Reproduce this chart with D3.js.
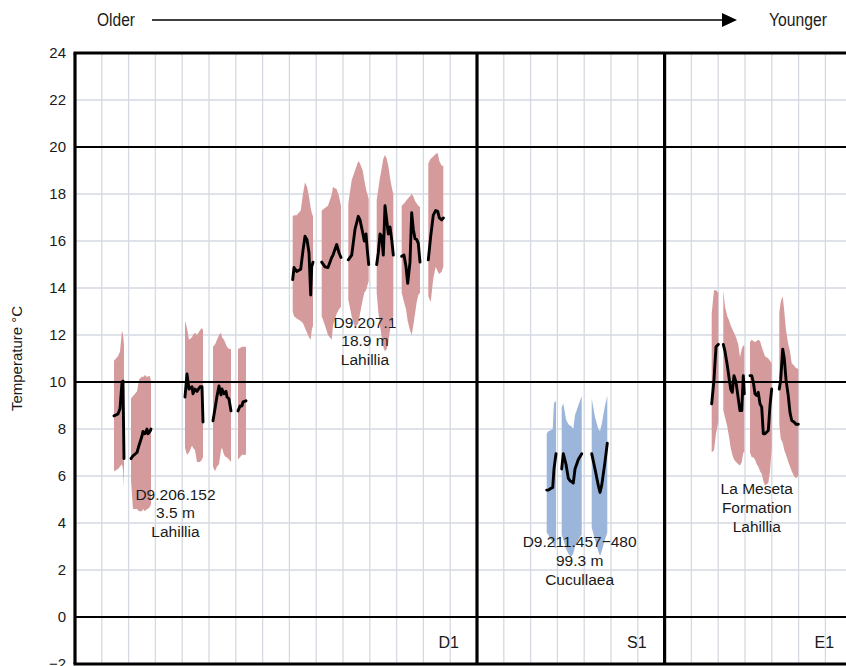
<!DOCTYPE html>
<html>
<head>
<meta charset="utf-8">
<script src="https://cdn.jsdelivr.net/npm/d3@7"></script>
<style>
  html, body { margin: 0; padding: 0; background: #fff; overflow: hidden; }
  svg { display: block; }
  text { font-family: "Liberation Sans", Arial, sans-serif; fill: #1a1a1a; }
</style>
</head>
<body>
<svg id="chart" width="846" height="666"></svg>
<script>
// ---- Data: sample position (column units), mean temperature and range (°C).
// null entries break a record into separate sub-sections.

// Panel boundaries and names
const panelEdges = [0, 15, 22, 29];
const panelNames = ["D1", "S1", "E1"];
const yTicks = [-2, 0, 2, 4, 6, 8, 10, 12, 14, 16, 18, 20, 22, 24];
const boldTemps = [0, 10, 20];

// D9.206.152 (3.5 m, Lahillia)
const d206_pos  = [1.455, 1.604, 1.679, 1.754, 1.791, 1.828, null,
                   2.090, 2.164, 2.313, 2.388, 2.500, 2.537, 2.612, 2.687, 2.724, 2.799, 2.836, null,
                   4.104, 4.179, 4.254, 4.366, 4.403, 4.478, 4.552, 4.664, 4.739, 4.776, null,
                   5.149, 5.224, 5.299, 5.373, 5.448, 5.485, 5.560, 5.634, 5.672, 5.746, 5.821, null,
                   6.082, 6.157, 6.231, 6.269, 6.381];
const d206_mean = [8.56, 8.64, 8.86, 10.0, 10.04, 6.74, null,
                   6.74, 6.86, 7.0, 7.3, 7.7, 7.9, 7.8, 8.0, 7.8, 7.9, 8.0, null,
                   9.36, 10.34, 9.7, 9.8, 9.5, 9.7, 9.6, 9.8, 9.8, 8.3, null,
                   8.35, 8.86, 9.4, 9.83, 9.45, 9.7, 9.5, 9.6, 9.36, 9.28, 8.77, null,
                   8.77, 8.98, 8.98, 9.15, 9.2];
const d206_hi   = [10.9, 11.1, 11.3, 12.2, 12.0, 11.6, null,
                   9.3, 9.4, 9.6, 10.1, 10.25, 10.2, 10.3, 10.2, 10.25, 10.25, 10.0, null,
                   12.6, 12.3, 11.8, 11.9, 12.0, 12.1, 12.0, 12.2, 12.3, 12.2, null,
                   11.5, 11.6, 11.8, 12.0, 12.1, 11.9, 11.8, 11.6, 11.5, 11.4, 11.4, null,
                   11.4, 11.45, 11.5, 11.5, 11.5];
const d206_lo   = [6.2, 6.3, 6.4, 6.5, 6.3, 5.5, null,
                   5.8, 4.6, 4.6, 4.5, 4.5, 4.6, 4.5, 4.6, 4.6, 4.7, 4.8, null,
                   7.2, 6.9, 7.0, 7.3, 7.2, 7.1, 6.6, 6.6, 6.7, 6.8, null,
                   6.4, 6.2, 6.4, 6.5, 7.1, 7.2, 6.9, 6.8, 6.8, 6.7, 6.6, null,
                   6.7, 6.8, 6.9, 6.9, 6.9];

// D9.207.1 (18.9 m, Lahillia)
const d207_pos  = [8.123, 8.172, 8.272, 8.422, 8.507, 8.582, 8.657, 8.731, 8.795, 8.832, 8.881, null,
                   9.205, 9.328, 9.440, 9.578, 9.627, 9.765, 9.851, 9.925, null,
                   10.198, 10.325, 10.448, 10.571, 10.634, 10.735, 10.795, 10.858, 10.907, 10.959, null,
                   11.257, 11.317, 11.381, 11.444, 11.504, 11.567, 11.631, 11.690, 11.754, 11.817, 11.877, null,
                   12.190, 12.276, 12.351, 12.414, 12.500, 12.563, 12.623, 12.687, 12.750, 12.810, 12.873, null,
                   13.183, 13.272, 13.369, 13.459, 13.534, 13.594, 13.683, 13.743];
const d207_mean = [14.36, 14.87, 14.7, 14.8, 15.6, 16.2, 16.05, 15.5, 13.7, 14.9, 15.1, null,
                   15.1, 14.9, 14.87, 15.3, 15.4, 15.85, 15.5, 15.3, null,
                   15.2, 15.4, 16.5, 17.05, 16.9, 16.35, 16.0, 16.3, 15.6, 15.0, null,
                   15.0, 15.5, 16.3, 16.2, 15.4, 17.5, 16.9, 16.3, 16.6, 16.06, 15.4, null,
                   15.35, 15.4, 14.9, 14.2, 15.1, 17.2, 16.5, 16.1, 16.06, 15.9, 15.1, null,
                   15.2, 16.2, 17.1, 17.3, 17.26, 16.98, 16.9, 16.98];
const d207_hi   = [17.05, 17.1, 17.1, 17.3, 18.0, 18.5, 18.3, 17.9, 17.4, 17.2, 17.05, null,
                   17.3, 17.4, 17.5, 17.97, 18.3, 18.2, 17.9, 17.5, null,
                   17.6, 18.6, 19.0, 19.4, 19.3, 19.0, 18.6, 18.2, 18.0, 17.8, null,
                   17.75, 18.2, 18.7, 19.1, 19.5, 19.66, 19.5, 19.2, 18.7, 18.3, 18.0, null,
                   17.5, 17.6, 17.7, 17.8, 17.9, 18.0, 17.9, 17.7, 17.6, 17.5, 17.45, null,
                   19.3, 19.5, 19.6, 19.7, 19.75, 19.4, 19.2, 19.2];
const d207_lo   = [13.0, 12.8, 12.7, 12.6, 12.5, 12.3, 12.1, 11.9, 11.8, 12.2, 12.4, null,
                   12.8, 12.4, 12.0, 11.8, 12.4, 12.9, 13.1, 13.2, null,
                   13.5, 12.8, 12.3, 12.5, 12.9, 13.5, 13.8, 13.9, 14.1, 14.3, null,
                   13.8, 13.0, 12.4, 11.9, 11.5, 11.3, 11.4, 11.7, 12.2, 12.6, 12.8, null,
                   13.8, 13.4, 13.1, 12.6, 12.2, 12.0, 12.4, 12.9, 13.4, 13.7, 13.8, null,
                   13.65, 13.4, 14.4, 14.9, 14.7, 14.6, 14.7, 14.9];

// D9.211.457−480 (99.3 m, Cucullaea)
const d211_pos  = [17.601, 17.660, 17.750, 17.825, 17.873, 17.948, null,
                   18.160, 18.220, 18.321, 18.407, 18.470, 18.534, 18.593, 18.657, 18.780, 18.907, null,
                   19.280, 19.403, 19.526, 19.590, 19.653, 19.776, 19.862];
const d211_mean = [5.4, 5.4, 5.47, 5.5, 6.3, 6.95, null,
                   6.3, 6.95, 6.5, 5.9, 5.8, 5.75, 5.7, 6.3, 6.7, 6.95, null,
                   6.95, 6.3, 5.6, 5.3, 5.6, 6.6, 7.4];
const d211_hi   = [7.8, 7.9, 7.95, 8.0, 9.1, 9.2, null,
                   8.9, 9.1, 8.4, 8.2, 8.15, 8.1, 8.0, 8.6, 9.0, 9.4, null,
                   9.3, 8.5, 8.0, 7.9, 8.2, 9.0, 9.4];
const d211_lo   = [3.6, 3.5, 3.3, 3.2, 3.0, 2.9, null,
                   3.5, 3.3, 2.9, 2.7, 2.6, 2.6, 2.7, 3.0, 3.3, 3.5, null,
                   3.8, 3.3, 2.8, 2.6, 2.8, 3.3, 3.6];

// La Meseta Formation (Lahillia)
const lmf_pos  = [23.757, 23.843, 23.918, 24.004, null,
                  24.190, 24.254, 24.340, 24.414, 24.466, 24.526, 24.590, 24.664, 24.750, 24.813, 24.877, 24.937, 24.974, null,
                  25.187, 25.250, 25.310, 25.373, 25.437, 25.496, 25.560, 25.623, 25.683, 25.746, 25.869, 25.933, 25.996, null,
                  26.280, 26.332, 26.407, 26.466, 26.530, 26.616, 26.679, 26.743, 26.828, 26.903, 26.989];
const lmf_mean = [9.07, 10.1, 11.5, 11.6, null,
                  11.6, 11.3, 10.7, 10.1, 9.7, 9.56, 10.27, 10.0, 9.28, 8.78, 8.78, 10.27, 9.5, null,
                  10.27, 10.27, 10.0, 9.5, 9.43, 9.56, 9.07, 8.93, 7.8, 7.8, 7.94, 9.0, 9.7, null,
                  9.7, 10.1, 11.4, 11.0, 10.1, 9.4, 8.7, 8.36, 8.3, 8.2, 8.2];
const lmf_hi   = [12.9, 13.9, 13.9, 13.8, null,
                  13.9, 13.2, 12.8, 12.6, 12.4, 12.25, 12.1, 11.9, 11.6, 11.05, 11.4, 11.55, 11.55, null,
                  11.7, 11.8, 11.75, 11.7, 11.75, 11.8, 11.75, 11.5, 11.3, 11.1, 11.0, 10.9, 10.8, null,
                  12.95, 13.4, 13.65, 13.0, 12.2, 11.6, 11.3, 10.8, 10.7, 10.6, 10.55];
const lmf_lo   = [7.0, 7.1, 7.8, 8.3, null,
                  8.8, 8.5, 8.1, 7.6, 7.2, 6.9, 6.7, 6.6, 6.5, 6.45, 6.6, 7.0, 7.0, null,
                  7.0, 6.8, 6.8, 6.7, 6.5, 6.4, 6.2, 6.1, 5.8, 5.6, 5.7, 6.2, 7.2, null,
                  8.2, 7.6, 7.4, 7.1, 6.9, 6.6, 6.4, 6.2, 6.0, 5.9, 6.0];

// Sample labels: anchor (position, temperature of first line) and text lines
const sampleLabels = [
  { pos: 3.75,  temp: 5.23,  lines: ["D9.206.152", "3.5 m", "Lahillia"] },
  { pos: 10.82, temp: 12.55, lines: ["D9.207.1", "18.9 m", "Lahillia"] },
  { pos: 18.83, temp: 3.19,  lines: ["D9.211.457\u2212480", "99.3 m", "Cucullaea"] },
  { pos: 25.44, temp: 5.45,  lines: ["La Meseta", "Formation", "Lahillia"] }
];

const PINK = "#d59a9b";
const BLUE = "#9cb5da";

// ---- Build
const svg = d3.select("#chart");
const x = d3.scaleLinear().domain([0, 29]).range([75, 75 + 29 * 26.8]);
const y = d3.scaleLinear().domain([-2, 24]).range([664, 53]);

// Light grid
const grid = svg.append("g").attr("stroke", "#d5d9e1").attr("stroke-width", 1.3);
grid.selectAll("line.v")
  .data(d3.range(1, 29).filter(u => !panelEdges.includes(u)))
  .join("line")
  .attr("x1", d => x(d)).attr("x2", d => x(d))
  .attr("y1", y(24)).attr("y2", y(-2));
grid.selectAll("line.h")
  .data(yTicks.filter(t => t > -2 && t < 24 && !boldTemps.includes(t)))
  .join("line")
  .attr("x1", x(0)).attr("x2", x(29))
  .attr("y1", d => y(d)).attr("y2", d => y(d));

// Records
function zipRecord(pos, mean, hi, lo) {
  return pos.map((p, i) => ({ p, m: mean[i], h: hi[i], l: lo[i] }));
}
const records = [
  { rows: zipRecord(d206_pos, d206_mean, d206_hi, d206_lo), fill: PINK },
  { rows: zipRecord(d207_pos, d207_mean, d207_hi, d207_lo), fill: PINK },
  { rows: zipRecord(d211_pos, d211_mean, d211_hi, d211_lo), fill: BLUE },
  { rows: zipRecord(lmf_pos,  lmf_mean,  lmf_hi,  lmf_lo),  fill: PINK }
];

const band = d3.area()
  .defined(d => d.p != null)
  .x(d => x(d.p)).y0(d => y(d.l)).y1(d => y(d.h));
const meanLine = d3.line()
  .defined(d => d.p != null)
  .x(d => x(d.p)).y(d => y(d.m));

const bands = svg.append("g");
records.forEach(r => {
  bands.append("path").attr("d", band(r.rows)).attr("fill", r.fill);
});

// Bold reference lines and frame
const frame = svg.append("g").attr("stroke", "#000");
frame.selectAll("line.b")
  .data(boldTemps).join("line")
  .attr("x1", x(0)).attr("x2", x(29))
  .attr("y1", d => y(d)).attr("y2", d => y(d))
  .attr("stroke-width", 1.8);
frame.selectAll("line.tb")
  .data([24, -2]).join("line")
  .attr("x1", x(0) - 1.5).attr("x2", x(29))
  .attr("y1", d => y(d)).attr("y2", d => y(d))
  .attr("stroke-width", 3);
frame.selectAll("line.p")
  .data(panelEdges).join("line")
  .attr("x1", d => x(d)).attr("x2", d => x(d))
  .attr("y1", y(24)).attr("y2", y(-2))
  .attr("stroke-width", 3.2);

// Mean lines
const lines = svg.append("g");
records.forEach(r => {
  lines.append("path").attr("d", meanLine(r.rows))
    .attr("fill", "none").attr("stroke", "#000")
    .attr("stroke-width", 2.9).attr("stroke-linejoin", "round").attr("stroke-linecap", "round");
});

// Y axis labels
const yAxis = svg.append("g")
  .attr("transform", `translate(${x(0)},0)`)
  .call(d3.axisLeft(y).tickValues(yTicks).tickSize(0).tickPadding(9).tickFormat(d3.format("d")));
yAxis.select(".domain").remove();
yAxis.selectAll("text")
  .attr("font-family", "Liberation Sans, Arial, sans-serif")
  .attr("font-size", 15).attr("fill", "#1a1a1a");

svg.append("text")
  .attr("transform", `translate(22,${y(11)}) rotate(-90)`)
  .attr("text-anchor", "middle")
  .attr("font-size", 15)
  .text("Temperature \u00b0C");

// Panel names
svg.selectAll("text.panel")
  .data(panelNames).join("text")
  .attr("x", (d, i) => x(panelEdges[i + 1]) - 18)
  .attr("y", y(-1.1))
  .attr("dy", "0.35em")
  .attr("text-anchor", "end")
  .attr("font-size", 16)
  .text(d => d);

// Sample labels
const lab = svg.append("g");
sampleLabels.forEach(s => {
  s.lines.forEach((t, i) => {
    lab.append("text")
      .attr("x", x(s.pos))
      .attr("y", y(s.temp) + i * 18.8)
      .attr("dy", "0.35em")
      .attr("text-anchor", "middle")
      .attr("font-size", 15.5)
      .text(t);
  });
});

// Age direction header (condensed lettering)
const head = svg.append("g");
head.append("text").attr("x", 97).attr("y", 20).attr("dy", "0.35em")
  .attr("font-size", 17.5)
  .attr("textLength", 38).attr("lengthAdjust", "spacingAndGlyphs")
  .text("Older");
head.append("text").attr("x", 769).attr("y", 20).attr("dy", "0.35em")
  .attr("font-size", 17.5)
  .attr("textLength", 58).attr("lengthAdjust", "spacingAndGlyphs")
  .text("Younger");
head.append("line").attr("x1", 152).attr("x2", 724).attr("y1", 20).attr("y2", 20)
  .attr("stroke", "#000").attr("stroke-width", 1.6);
head.append("path").attr("d", "M722,13 L737,20 L722,27 Z").attr("fill", "#000");
</script>
</body>
</html>
